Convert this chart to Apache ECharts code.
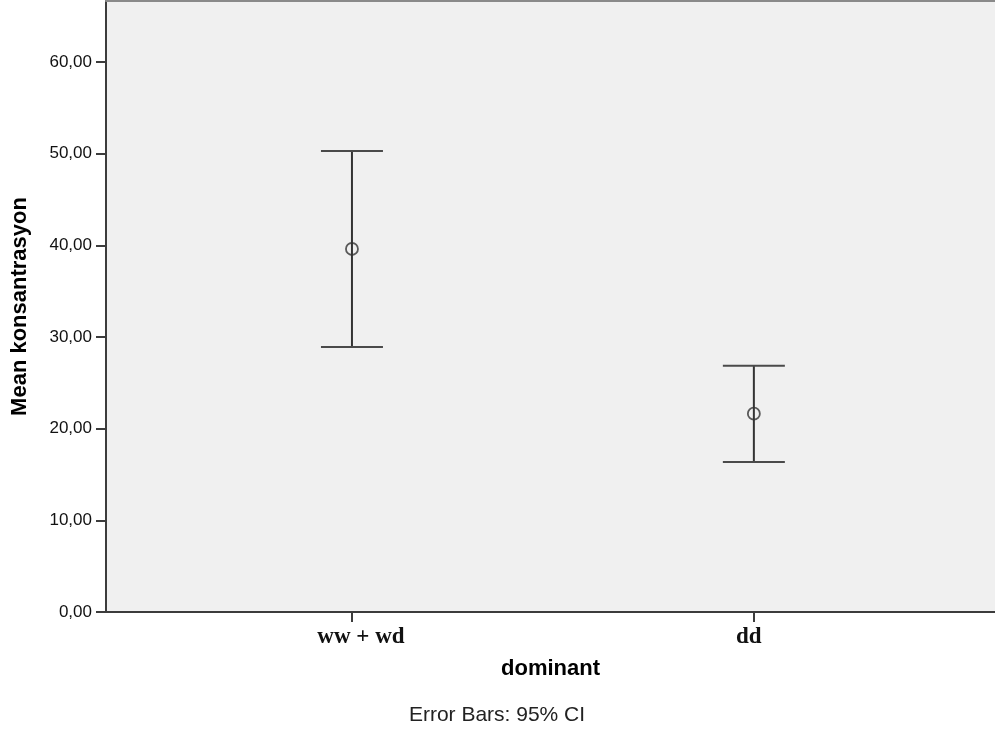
<!DOCTYPE html>
<html>
<head>
<meta charset="utf-8">
<script src="https://cdn.jsdelivr.net/npm/echarts@6/dist/echarts.min.js"></script>
<style>
  html, body { margin: 0; padding: 0; background: #ffffff; }
  #chart { width: 995px; height: 731px; }
</style>
</head>
<body>
<div id="chart"></div>
<script>
// Group labels along the x axis
const categories = ['ww + wd', 'dd'];
// Group means and 95% confidence limits
const means = [39.6, 21.63];
const ciLower = [28.91, 16.36];
const ciUpper = [50.29, 26.87];
// Y axis tick values
const yTicks = [0, 10, 20, 30, 40, 50, 60];

const chart = echarts.init(document.getElementById('chart'), null, { renderer: 'canvas' });

const catIndex = categories.map((_, i) => i);
const barData = categories.map((_, i) => [i, ciLower[i], ciUpper[i]]);
const meanData = categories.map((_, i) => [i, means[i]]);

const fmtTick = v => v.toFixed(2).replace('.', ',');

const option = {
  backgroundColor: '#ffffff',
  animation: false,
  grid: {
    left: 106, right: 0, top: 1, bottom: 119,
    show: true, backgroundColor: '#f0f0f0', borderWidth: 0
  },
  xAxis: [{
    type: 'value',
    min: -0.612, max: 1.6,
    position: 'bottom',
    splitLine: { show: false },
    axisLine: { show: true, onZero: false, lineStyle: { color: '#3c3c3c', width: 2 } },
    axisTick: { show: true, length: 10, customValues: catIndex, lineStyle: { color: '#3c3c3c', width: 2 } },
    axisLabel: {
      customValues: catIndex,
      margin: 14,
      formatter: v => v === 0 ? '{a|' + categories[0] + '}' : '{b|' + categories[Math.round(v)] + '}',
      rich: {
        a: { fontFamily: 'Liberation Serif', fontWeight: 'bold', fontSize: 23, color: '#111111', padding: [0, 0, 0, 18] },
        b: { fontFamily: 'Liberation Serif', fontWeight: 'bold', fontSize: 23, color: '#111111', padding: [0, 10, 0, 0] }
      }
    },
    name: 'dominant',
    nameLocation: 'middle',
    nameGap: 46,
    nameTextStyle: { fontFamily: 'Liberation Sans', fontWeight: 'bold', fontSize: 22, color: '#000000' }
  }, {
    // top frame line of the plot area
    type: 'value',
    min: -0.612, max: 1.6,
    position: 'top',
    splitLine: { show: false },
    axisLine: { show: true, onZero: false, lineStyle: { color: '#8a8a8a', width: 2 } },
    axisTick: { show: false },
    axisLabel: { show: false }
  }],
  yAxis: {
    type: 'value',
    min: 0, max: 66.65, interval: 10,
    splitLine: { show: false },
    axisLine: { show: true, onZero: false, lineStyle: { color: '#3c3c3c', width: 2 } },
    axisTick: { show: true, length: 10, customValues: yTicks, lineStyle: { color: '#3c3c3c', width: 2 } },
    axisLabel: {
      customValues: yTicks,
      margin: 14,
      formatter: fmtTick,
      fontFamily: 'Liberation Sans', fontSize: 17, color: '#111111'
    },
    name: 'Mean konsantrasyon',
    nameLocation: 'middle',
    nameRotate: 90,
    nameGap: 75,
    nameTextStyle: { fontFamily: 'Liberation Sans', fontWeight: 'bold', fontSize: 22, color: '#000000' }
  },
  series: [{
    // 95% CI error bars with end caps
    type: 'custom',
    xAxisIndex: 0,
    data: barData,
    renderItem: (params, api) => {
      const x = api.value(0);
      const lo = api.coord([x, api.value(1)]);
      const hi = api.coord([x, api.value(2)]);
      const half = 31;
      const stroke = { stroke: '#333333', lineWidth: 2 };
      return {
        type: 'group',
        children: [
          { type: 'line', shape: { x1: lo[0], y1: lo[1], x2: hi[0], y2: hi[1] }, style: stroke },
          { type: 'line', shape: { x1: hi[0] - half, y1: hi[1], x2: hi[0] + half, y2: hi[1] }, style: { stroke: '#4a4a4a', lineWidth: 2 } },
          { type: 'line', shape: { x1: lo[0] - half, y1: lo[1], x2: lo[0] + half, y2: lo[1] }, style: { stroke: '#4a4a4a', lineWidth: 2 } }
        ]
      };
    },
    z: 2
  }, {
    // group means
    type: 'scatter',
    xAxisIndex: 0,
    data: meanData,
    symbol: 'circle',
    symbolSize: 12,
    itemStyle: { color: 'rgba(0,0,0,0)', borderColor: '#333333', borderWidth: 1.8 },
    z: 3
  }],
  graphic: [{
    type: 'text',
    x: 497, y: 715,
    style: {
      text: 'Error Bars: 95% CI',
      fontFamily: 'Liberation Sans', fontSize: 21, fill: '#222222',
      align: 'center', verticalAlign: 'middle'
    }
  }]
};

chart.setOption(option);
</script>
</body>
</html>
